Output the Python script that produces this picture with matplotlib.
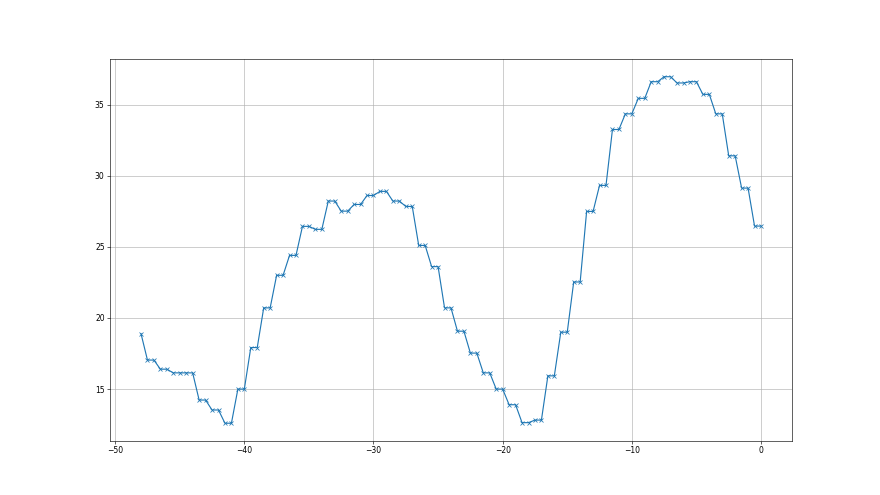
import numpy as np
import matplotlib
matplotlib.use("Agg")
import matplotlib.pyplot as plt

# sample positions (half-unit steps) and readings
x_vals = np.arange(-48, 0.5, 0.5)
y_vals = [
    18.9,
    17.04, 17.04, 16.4, 16.4, 16.14, 16.14, 16.14, 16.14,
    14.23, 14.23, 13.53, 13.53, 12.6, 12.6, 15.0, 15.0,
    17.92, 17.92, 20.71, 20.71, 23.0, 23.0, 24.4, 24.4,
    26.44, 26.44, 26.23, 26.23, 28.22, 28.22, 27.51, 27.51,
    27.98, 27.98, 28.61, 28.61, 28.9, 28.9, 28.22, 28.22,
    27.84, 27.84, 25.1, 25.1, 23.61, 23.61, 20.71, 20.71,
    19.07, 19.07, 17.53, 17.53, 16.14, 16.14, 15.0, 15.0,
    13.9, 13.9, 12.64, 12.64, 12.82, 12.82, 15.93, 15.93,
    19.0, 19.0, 22.53, 22.53, 27.49, 27.49, 29.32, 29.32,
    33.25, 33.25, 34.35, 34.35, 35.44, 35.44, 36.61, 36.61,
    36.96, 36.96, 36.52, 36.52, 36.61, 36.61, 35.72, 35.72,
    34.35, 34.35, 31.40, 31.40, 29.13, 29.13, 26.46, 26.46,
]

fig = plt.figure(figsize=(16, 9), dpi=55)
plt.plot(x_vals, y_vals, marker='x')
plt.grid(True)
plt.savefig("out.png", dpi=55)
